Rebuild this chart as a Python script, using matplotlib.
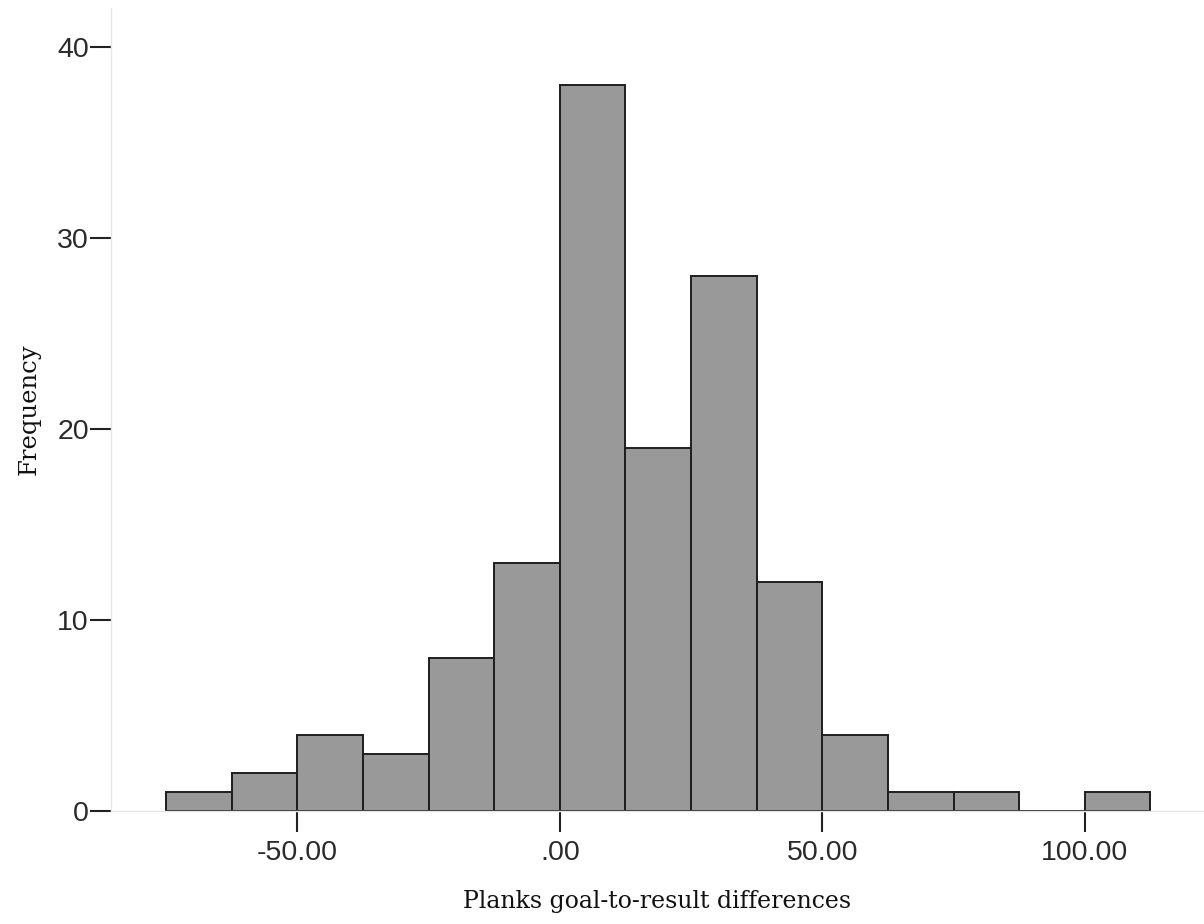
import matplotlib
matplotlib.use("Agg")
import matplotlib.pyplot as plt
import numpy as np

# Histogram data (bin width 12.5)
bin_lefts = [-75.0, -62.5, -50.0, -37.5, -25.0, -12.5, 0.0, 12.5, 25.0, 37.5,
             50.0, 62.5, 75.0, 87.5, 100.0]
counts = [1, 2, 4, 3, 8, 13, 38, 19, 28, 12, 4, 1, 1, 0, 1]
bin_width = 12.5

x_ticks = [-50, 0, 50, 100]
x_tick_labels = ["-50.00", ".00", "50.00", "100.00"]
y_ticks = [0, 10, 20, 30, 40]

W, H = 1204, 924
fig = plt.figure(figsize=(W / 100, H / 100), dpi=100)
ax = fig.add_axes([111 / W, (H - 811) / H, (W - 111) / W, (811 - 8) / H])

ax.bar(bin_lefts, counts, width=bin_width, align="edge",
       color="#999999", edgecolor="#1e1e1e", linewidth=1.4, zorder=2)

ax.set_xlim(-85.5, 122.7)
ax.set_ylim(0, 42.04)

for s in ["top", "right"]:
    ax.spines[s].set_visible(False)
for s in ["left", "bottom"]:
    ax.spines[s].set_color("#e6e6e6")
    ax.spines[s].set_linewidth(1.0)

ax.set_xticks(x_ticks)
ax.set_xticklabels(x_tick_labels)
ax.set_yticks(y_ticks)
ax.set_yticklabels([str(v) for v in y_ticks])

ax.tick_params(axis="x", direction="out", length=15, width=1.5, color="#222222",
               pad=6, labelsize=20.5, labelcolor="#2a2a2a")
ax.tick_params(axis="y", direction="out", length=15, width=1.5, color="#222222",
               pad=1, labelsize=20.5, labelcolor="#2a2a2a")
for lbl in ax.get_xticklabels() + ax.get_yticklabels():
    lbl.set_family("Liberation Sans")

ax.set_xlabel("Planks goal-to-result differences", family="DejaVu Serif",
              fontsize=17, color="#111111", labelpad=17)
ax.set_ylabel("Frequency", family="DejaVu Serif", fontsize=17.5,
              color="#111111", labelpad=12)

fig.savefig("out.png", dpi=100)
